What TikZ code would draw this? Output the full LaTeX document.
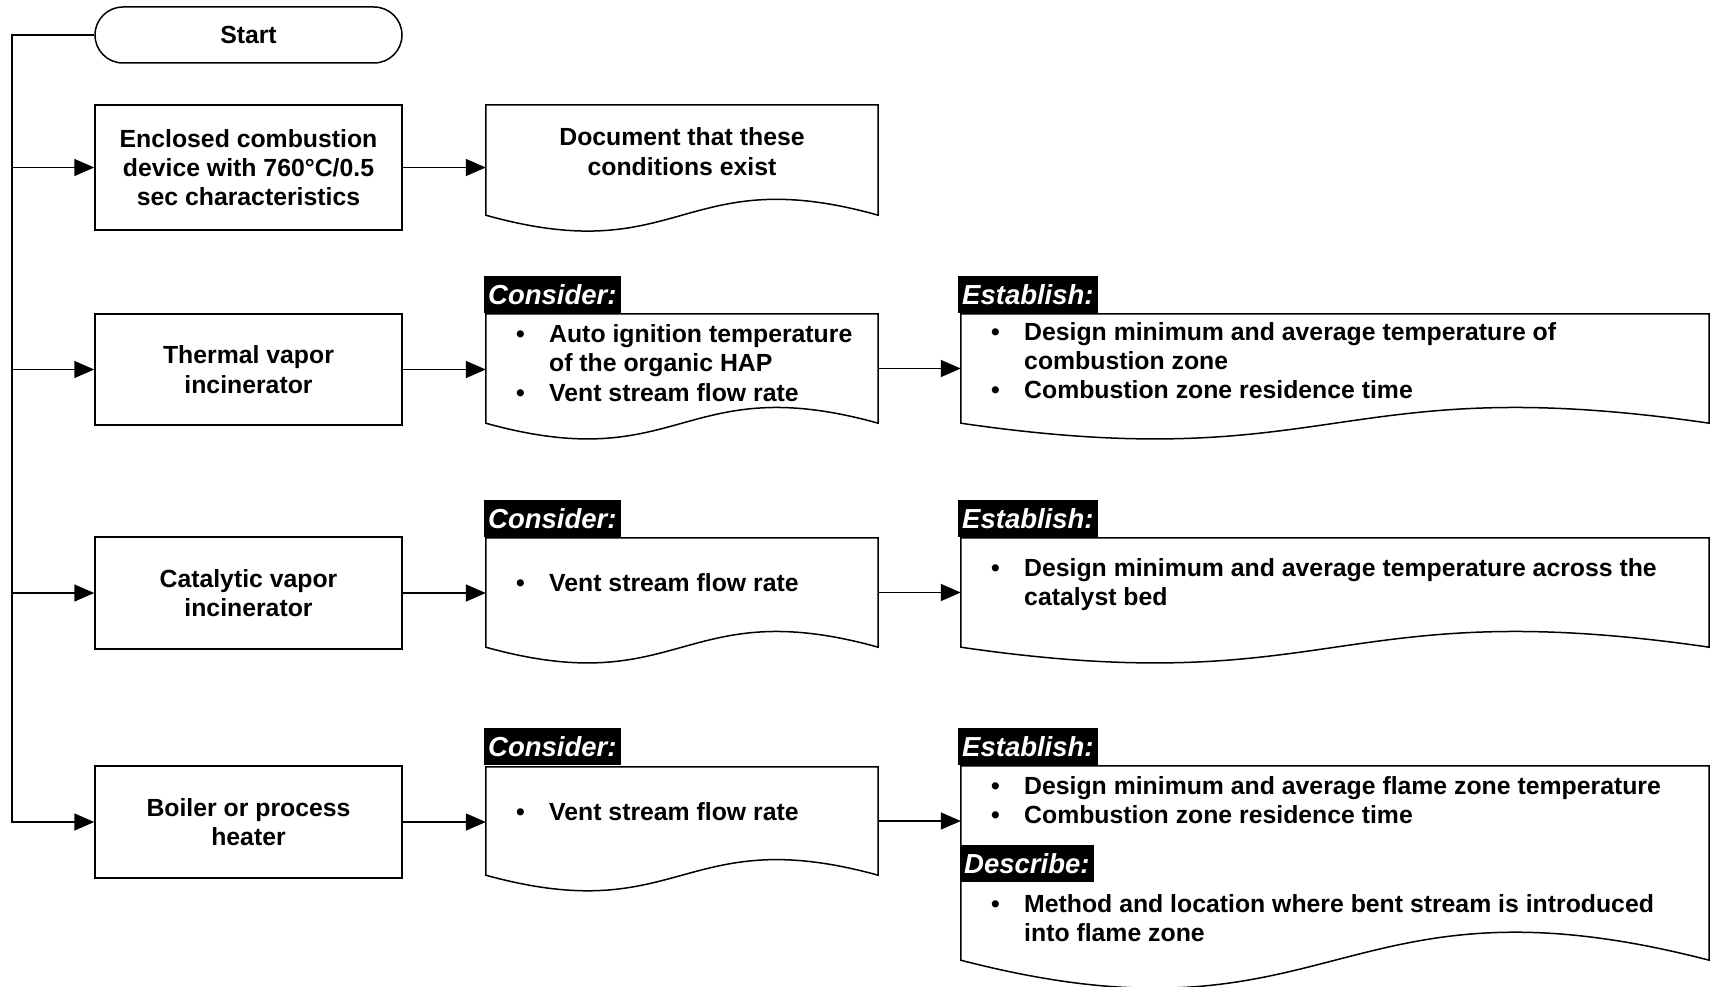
\documentclass[tikz,border=0pt]{standalone}
\usepackage{fontspec}
\setmainfont{Liberation Sans}
\usetikzlibrary{arrows.meta,calc}
\newcommand\bl{\makebox[33pt][l]{\textbullet}}
\newcommand\ind{\hspace*{33pt}}
\newcommand\docoutline[2]{%
  \draw[ln] (#1.south east) -- (#1.north east) -- (#1.north west) -- (#1.south west)
    .. controls ($(#1.south)+(0,0.5*#2)$) and ($(#1.south)+(0,-0.5*#2)$) .. (#1.south east) -- cycle;}
\begin{document}
\begin{tikzpicture}[x=1pt,y=-1pt,
  every node/.style={font=\bfseries\fontsize{24.8}{29.3}\selectfont, inner sep=0pt},
  ln/.style={line width=1.5pt},
  arr/.style={ln, -{Triangle[length=20pt,width=17pt]}},
  proc/.style={draw, line width=1.5pt, minimum width=307pt, align=center},
  doc/.style={minimum width=#1},
  lst/.style={anchor=base west},
  hdr/.style={fill=black, text=white, font=\bfseries\itshape\fontsize{27.5}{30}\selectfont,
    anchor=south west, inner xsep=4pt, inner ysep=0pt, minimum height=37pt,
    text height=20pt, text depth=0pt}]
\useasboundingbox (0,0) rectangle (1710,987);

% left column
\node[proc, minimum height=56pt, rounded corners=28pt] (start) at (248.5,35) {Start};
\node[proc, minimum height=125pt] (enc) at (248.5,167.5) {Enclosed combustion\\device with 760°C/0.5\\sec characteristics};
\node[proc, minimum height=111pt] (therm) at (248.5,369.5) {Thermal vapor\\incinerator};
\node[proc, minimum height=112pt] (cat) at (248.5,593) {Catalytic vapor\\incinerator};
\node[proc, minimum height=112pt] (boil) at (248.5,822) {Boiler or process\\heater};

% middle column
\node[doc=392pt, minimum height=110pt] (doc1) at (682,160) {};
\node[doc=392pt, minimum height=109pt] (c1) at (682,368.5) {};
\node[doc=392pt, minimum height=109pt] (c2) at (682,592.5) {};
\node[doc=392pt, minimum height=108pt] (c3) at (682,821) {};
\docoutline{doc1}{110}
\docoutline{c1}{109}
\docoutline{c2}{109}
\docoutline{c3}{108}

% right column
\node[doc=748pt, minimum height=109pt] (e1) at (1335,368.5) {};
\node[doc=748pt, minimum height=109pt] (e2) at (1335,592.5) {};
\node[doc=748pt, minimum height=194pt] (e3) at (1335,863) {};
\docoutline{e1}{109}
\docoutline{e2}{109}
\docoutline{e3}{194}

% headers
\node[hdr] (c1h) at (484,313.5) {Consider:};
\node[hdr] (c2h) at (484,537.5) {Consider:};
\node[hdr] (c3h) at (484,765.5) {Consider:};
\node[hdr] (e1h) at (958,313.5) {Establish:};
\node[hdr] (e2h) at (958,537.5) {Establish:};
\node[hdr] (e3h) at (958,765.5) {Establish:};
\node[hdr] (d3h) at (960,882) {Describe:};

% texts
\node[anchor=base] (doc1t) at (682,146) {\begin{tabular}[t]{@{}c@{}}Document that these\\conditions exist\end{tabular}};
\node[lst] (c1t) at (516,342.5) {\begin{tabular}[t]{@{}l@{}}\bl Auto ignition temperature\\\ind of the organic HAP\\\bl Vent stream flow rate\end{tabular}};
\node[lst] (c2t) at (516,591) {\bl Vent stream flow rate};
\node[lst] (c3t) at (516,820) {\bl Vent stream flow rate};
\node[lst] (e1t) at (991,340) {\begin{tabular}[t]{@{}l@{}}\bl Design minimum and average temperature of\\\ind combustion zone\\\bl Combustion zone residence time\end{tabular}};
\node[lst] (e2t) at (991,576) {\begin{tabular}[t]{@{}l@{}}\bl Design minimum and average temperature across the\\\ind catalyst bed\end{tabular}};
\node[lst] (e3t) at (991,794) {\begin{tabular}[t]{@{}l@{}}\bl Design minimum and average flame zone temperature\\\bl Combustion zone residence time\end{tabular}};
\node[lst] (d3t) at (991,912) {\begin{tabular}[t]{@{}l@{}}\bl Method and location where bent stream is introduced\\\ind into flame zone\end{tabular}};

% connectors
\coordinate (trunk) at (12,822);
\draw[arr] (start.west) -| (trunk) -- (boil.west);
\draw[arr] (enc.west -| trunk) -- (enc.west);
\draw[arr] (therm.west -| trunk) -- (therm.west);
\draw[arr] (cat.west -| trunk) -- (cat.west);
\draw[arr] (enc.east) -- (enc.east -| doc1.west);
\draw[arr] (therm.east) -- (therm.east -| c1.west);
\draw[arr] (cat.east) -- (cat.east -| c2.west);
\draw[arr] (boil.east) -- (boil.east -| c3.west);
\draw[arr] (c1.east) -- (c1.east -| e1.west);
\draw[arr] (c2.east) -- (c2.east -| e2.west);
\draw[arr] (c3.east) -- (c3.east -| e3.west);
\end{tikzpicture}
\end{document}
